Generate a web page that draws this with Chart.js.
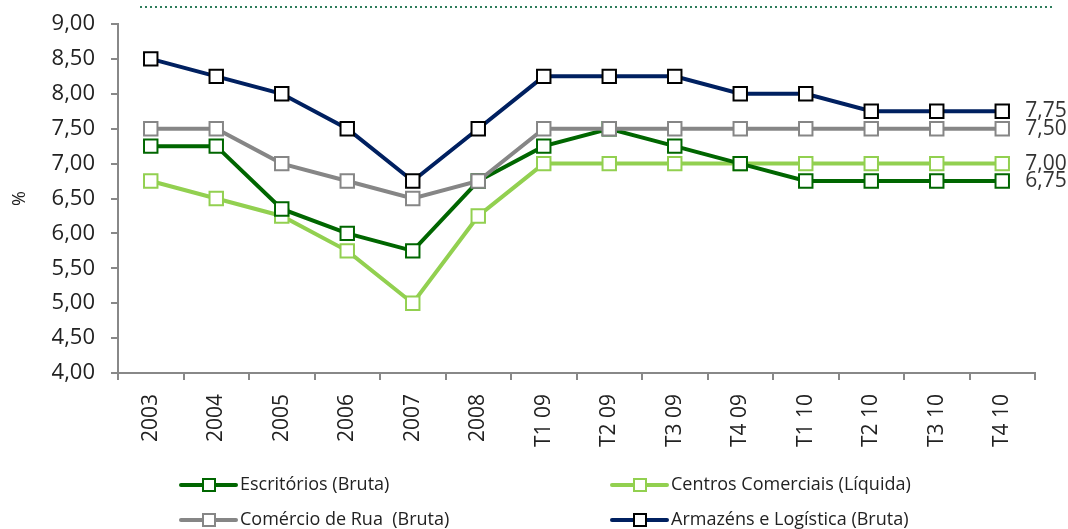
<!DOCTYPE html>
<html>
<head>
<meta charset="utf-8">
<script src="https://cdn.jsdelivr.net/npm/chart.js@4/dist/chart.umd.min.js"></script>
<style>
  html, body { margin: 0; padding: 0; background: #fff; }
  #wrap { position: relative; width: 1068px; height: 529px; }
</style>
</head>
<body>
<div id="wrap"><canvas id="grafico"></canvas></div>
<script>
// DADOS
const categorias = ['2003', '2004', '2005', '2006', '2007', '2008', 'T1 09', 'T2 09', 'T3 09', 'T4 09', 'T1 10', 'T2 10', 'T3 10', 'T4 10'];
const escritorios = [7.25, 7.25, 6.35, 6.00, 5.75, 6.75, 7.25, 7.50, 7.25, 7.00, 6.75, 6.75, 6.75, 6.75];
const centrosComerciais = [6.75, 6.50, 6.25, 5.75, 5.00, 6.25, 7.00, 7.00, 7.00, 7.00, 7.00, 7.00, 7.00, 7.00];
const comercioRua = [7.50, 7.50, 7.00, 6.75, 6.50, 6.75, 7.50, 7.50, 7.50, 7.50, 7.50, 7.50, 7.50, 7.50];
const armazens = [8.50, 8.25, 8.00, 7.50, 6.75, 7.50, 8.25, 8.25, 8.25, 8.00, 8.00, 7.75, 7.75, 7.75];
const nomes = ['Escritórios (Bruta)', 'Centros Comerciais (Líquida)', 'Comércio de Rua  (Bruta)', 'Armazéns e Logística (Bruta)'];

const FONTE = '"Open Sans", Lato, sans-serif';
const virgula = v => Number(v).toFixed(2).replace('.', ',');

function serie(label, data, cor, borda, ordem) {
    return {
        label: label,
        data: data,
        borderColor: cor,
        backgroundColor: cor,
        borderWidth: 4,
        pointStyle: 'rect',
        pointRadius: 9.5,
        pointHoverRadius: 9.5,
        pointBorderWidth: 2,
        pointBackgroundColor: '#ffffff',
        pointBorderColor: borda,
        tension: 0,
        order: ordem
    };
}

//ROTULOS FINAIS + LEGENDA + LINHA PONTILHADA
const extras = {
    id: 'extras',
    afterDraw(chart) {
        const ctx = chart.ctx;
        ctx.save();
        // linha pontilhada no topo
        ctx.strokeStyle = '#2e7d5b';
        ctx.lineWidth = 2;
        ctx.setLineDash([2, 3]);
        ctx.beginPath();
        ctx.moveTo(140, 7);
        ctx.lineTo(1055, 7);
        ctx.stroke();
        ctx.setLineDash([]);

        // valores no fim das linhas
        ctx.font = '21px ' + FONTE;
        ctx.fillStyle = '#333';
        ctx.textAlign = 'left';
        ctx.textBaseline = 'middle';
        chart.data.datasets.forEach((ds, i) => {
            const meta = chart.getDatasetMeta(i);
            const pt = meta.data[meta.data.length - 1];
            ctx.fillText(virgula(ds.data[ds.data.length - 1]), pt.x + 23, pt.y);
        });

        // legenda em duas colunas
        const pos = [[181, 485], [612, 485], [181, 520], [612, 520]];
        ctx.font = '18px ' + FONTE;
        chart.data.datasets.forEach((ds, i) => {
            const [x, y] = pos[i];
            ctx.strokeStyle = ds.borderColor;
            ctx.lineWidth = 4;
            ctx.lineCap = 'round';
            ctx.beginPath();
            ctx.moveTo(x, y);
            ctx.lineTo(x + 55, y);
            ctx.stroke();
            ctx.fillStyle = '#fff';
            ctx.fillRect(x + 22, y - 6, 12, 12);
            ctx.strokeStyle = ds.pointBorderColor;
            ctx.lineWidth = 2;
            ctx.strokeRect(x + 22, y - 6, 12, 12);
            ctx.fillStyle = '#222';
            ctx.fillText(ds.label, x + 59, y);
        });
        ctx.restore();
    }
};

const grafico = new Chart(document.getElementById('grafico'), {
    type: 'line',
    data: {
        labels: categorias,
        datasets: [
            serie(nomes[0], escritorios, '#006600', '#006600', 2),
            serie(nomes[1], centrosComerciais, '#92d050', '#92d050', 3),
            serie(nomes[2], comercioRua, '#868686', '#868686', 1),
            serie(nomes[3], armazens, '#002060', '#000000', 0)
        ]
    },
    plugins: [extras],
    options: {
        responsive: true,
        maintainAspectRatio: false,
        animation: false,
        layout: { padding: { top: 24, right: 33, bottom: 75, left: 9 } },
        plugins: {
            legend: { display: false },
            tooltip: { enabled: false }
        },
        scales: {
            x: {
                offset: true,
                afterFit: s => { s.height = 81; },
                grid: { display: true, drawOnChartArea: false, offset: true, tickLength: 7, color: '#888', lineWidth: 2 },
                border: { color: '#888', width: 2 },
                ticks: {
                    minRotation: 90,
                    maxRotation: 90,
                    padding: 14,
                    color: '#222',
                    font: { family: FONTE, size: 21 }
                }
            },
            y: {
                min: 4,
                max: 9,
                afterFit: s => { s.width = 109; s.paddingTop = 0; s.paddingBottom = 0; },
                grid: { display: true, drawOnChartArea: false, tickLength: 7, color: '#888', lineWidth: 2 },
                border: { color: '#888', width: 2 },
                title: {
                    display: true,
                    text: '%',
                    color: '#222',
                    font: { family: FONTE, size: 18 },
                    padding: { top: 0, bottom: 0 }
                },
                ticks: {
                    stepSize: 0.5,
                    padding: 16,
                    color: '#222',
                    font: { family: FONTE, size: 22 },
                    callback: v => virgula(v)
                }
            }
        }
    }
});
</script>
</body>
</html>
